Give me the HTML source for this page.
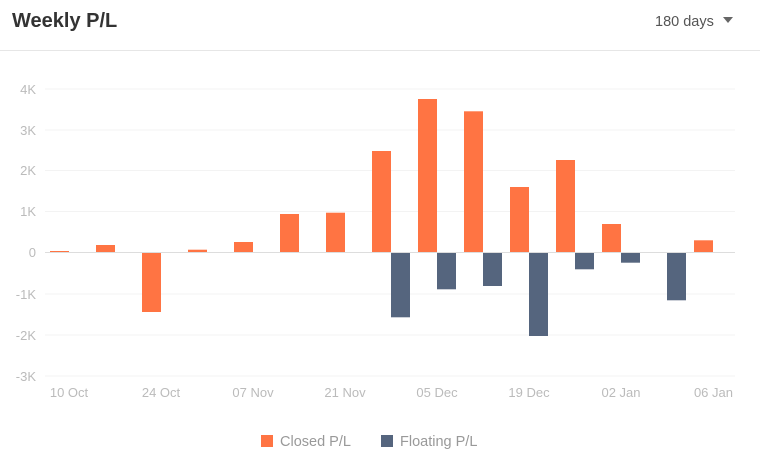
<!DOCTYPE html>
<html><head><meta charset="utf-8"><style>
html,body{margin:0;padding:0;background:#fff;width:760px;height:464px;overflow:hidden}
svg{display:block;font-family:"Liberation Sans",sans-serif}
</style></head><body>
<svg width="760" height="464" viewBox="0 0 760 464" xmlns="http://www.w3.org/2000/svg">
<text x="12" y="27" font-size="20" font-weight="bold" fill="#333">Weekly P/L</text>
<text x="655" y="26" font-size="14.5" fill="#555">180 days</text>
<path d="M723 17 L733 17 L728 23 Z" fill="#666"/>
<line x1="0" y1="50.5" x2="760" y2="50.5" stroke="#e6e6e6" stroke-width="1"/>
<g stroke="#f3f3f3" stroke-width="1">
<line x1="45" y1="89" x2="735" y2="89"/>
<line x1="45" y1="130" x2="735" y2="130"/>
<line x1="45" y1="170.5" x2="735" y2="170.5"/>
<line x1="45" y1="211.5" x2="735" y2="211.5"/>
<line x1="45" y1="294" x2="735" y2="294"/>
<line x1="45" y1="335" x2="735" y2="335"/>
<line x1="45" y1="376" x2="735" y2="376"/>
</g>
<g font-size="13" fill="#bbb" text-anchor="end">
<text x="36" y="94">4K</text>
<text x="36" y="135">3K</text>
<text x="36" y="175">2K</text>
<text x="36" y="216">1K</text>
<text x="36" y="257">0</text>
<text x="36" y="299">-1K</text>
<text x="36" y="340">-2K</text>
<text x="36" y="381">-3K</text>
</g>
<g fill="#ff7443">
<rect x="50" y="251" width="19" height="1.5"/>
<rect x="96" y="245" width="19" height="7.5"/>
<rect x="142" y="252.5" width="19" height="59.5"/>
<rect x="188" y="249.7" width="19" height="2.8"/>
<rect x="234" y="242" width="19" height="10.5"/>
<rect x="280" y="214" width="19" height="38.5"/>
<rect x="326" y="212.7" width="19" height="39.8"/>
<rect x="372" y="151" width="19" height="101.5"/>
<rect x="418" y="99" width="19" height="153.5"/>
<rect x="464" y="111.3" width="19" height="141.2"/>
<rect x="510" y="187" width="19" height="65.5"/>
<rect x="556" y="160" width="19" height="92.5"/>
<rect x="602" y="224" width="19" height="28.5"/>
<rect x="694" y="240.3" width="19" height="12.2"/>
</g>
<g fill="#55657e">
<rect x="391" y="252.5" width="19" height="64.8"/>
<rect x="437" y="252.5" width="19" height="36.8"/>
<rect x="483" y="252.5" width="19" height="33.5"/>
<rect x="529" y="252.5" width="19" height="83.5"/>
<rect x="575" y="252.5" width="19" height="16.8"/>
<rect x="621" y="252.5" width="19" height="10.2"/>
<rect x="667" y="252.5" width="19" height="47.8"/>
</g>
<line x1="45" y1="252.5" x2="735" y2="252.5" stroke="#ddd" stroke-width="1"/>
<g font-size="13" fill="#bbb" text-anchor="middle">
<text x="69" y="397">10 Oct</text>
<text x="161" y="397">24 Oct</text>
<text x="253" y="397">07 Nov</text>
<text x="345" y="397">21 Nov</text>
<text x="437" y="397">05 Dec</text>
<text x="529" y="397">19 Dec</text>
<text x="621" y="397">02 Jan</text>
<text x="733" y="397" text-anchor="end">06 Jan</text>
</g>
<rect x="261" y="435" width="12" height="12" fill="#ff7443"/>
<text x="280" y="446" font-size="14.5" fill="#999">Closed P/L</text>
<rect x="381" y="435" width="12" height="12" fill="#55657e"/>
<text x="400" y="446" font-size="14.5" fill="#999">Floating P/L</text>
</svg>
</body></html>
